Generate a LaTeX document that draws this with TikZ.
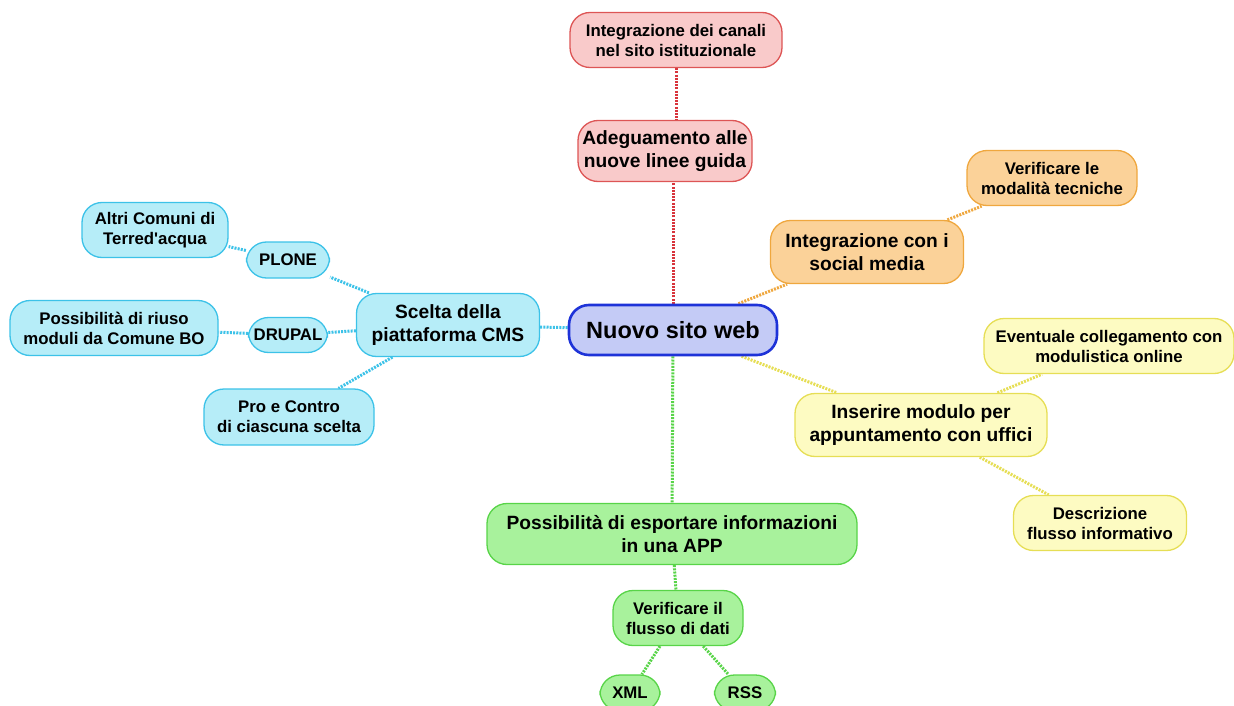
\documentclass[tikz,border=0pt]{standalone}
\usepackage{fontspec}
\setmainfont{Liberation Sans}
\usepackage{xcolor}
\usetikzlibrary{backgrounds}

\definecolor{rootfill}{HTML}{C4CBF6}
\definecolor{rootline}{HTML}{1E33D8}
\definecolor{redfill}{HTML}{F9CACA}
\definecolor{redline}{HTML}{DD5555}
\definecolor{reddot}{HTML}{D8343C}
\definecolor{orgfill}{HTML}{FBD299}
\definecolor{orgline}{HTML}{EFA73E}
\definecolor{yelfill}{HTML}{FDFBC2}
\definecolor{yelline}{HTML}{E6DE55}
\definecolor{grnfill}{HTML}{A8F29C}
\definecolor{grnline}{HTML}{58D448}
\definecolor{cyafill}{HTML}{B6EDF8}
\definecolor{cyaline}{HTML}{3CC2E8}

\begin{document}
\begin{tikzpicture}[x=1pt, y=-1pt,
    box/.style={draw, line width=1.3pt, rounded corners=20pt, align=center, inner sep=0pt},
    sz/.style 2 args={minimum width=#1pt, minimum height=#2pt},
    small/.style={font=\bfseries\fontsize{16.8}{20}\selectfont},
    mid/.style={font=\bfseries\fontsize{19.2}{23}\selectfont},
    rootbox/.style={box, fill=rootfill, draw=rootline, line width=2.6pt, font=\bfseries\fontsize{23.5}{27}\selectfont},
    redbox/.style={box, fill=redfill, draw=redline},
    orgbox/.style={box, fill=orgfill, draw=orgline},
    yelbox/.style={box, fill=yelfill, draw=yelline},
    grnbox/.style={box, fill=grnfill, draw=grnline},
    cyabox/.style={box, fill=cyafill, draw=cyaline},
    link/.style={line width=3pt, dash pattern=on 2pt off 1.2pt},
  ]
    \useasboundingbox (0,0) rectangle (1234,706);

    % centre
    \node[rootbox, sz={208}{50}] at (673,330) (root) {Nuovo sito web};

    % red branch
    \node[redbox, mid, sz={174}{61}] at (665,151) (adeg) {Adeguamento alle\\nuove linee guida};
    \node[redbox, small, sz={212}{55}] at (676,40) (canali) {Integrazione dei canali\\nel sito istituzionale};

    % orange branch
    \node[orgbox, mid, sz={193}{63}] at (867,252) (social) {Integrazione con i\\social media};
    \node[orgbox, small, sz={170}{55}] at (1052,178) (modal) {Verificare le\\modalità tecniche};

    % yellow branch
    \node[yelbox, mid, sz={252}{63}] at (921,425) (modulo) {Inserire modulo per\\appuntamento con uffici};
    \node[yelbox, small, sz={250}{55}] at (1109,346) (event) {Eventuale collegamento con\\modulistica online};
    \node[yelbox, small, sz={173}{55}] at (1100,523) (descr) {Descrizione\\flusso informativo};

    % green branch
    \node[grnbox, mid, sz={370}{61}] at (672,534) (app) {Possibilità di esportare informazioni\\in una APP};
    \node[grnbox, small, sz={130}{55}] at (678,618) (flusso) {Verificare il\\flusso di dati};
    \node[grnbox, small, sz={60}{36}] at (630,693) (xml) {XML};
    \node[grnbox, small, sz={61}{36}] at (745,693) (rss) {RSS};

    % cyan branch
    \node[cyabox, mid, sz={183}{63}] at (448,325) (cms) {Scelta della\\piattaforma CMS};
    \node[cyabox, small, sz={83}{36}] at (288,260) (plone) {PLONE};
    \node[cyabox, small, sz={79}{35}] at (288,335) (drupal) {DRUPAL};
    \node[cyabox, small, sz={146}{55}] at (155,230) (altri) {Altri Comuni di\\Terred\textquotesingle acqua};
    \node[cyabox, small, sz={208}{55}] at (114,328) (riuso) {Possibilità di riuso\\moduli da Comune BO};
    \node[cyabox, small, sz={170}{56}] at (289,417) (procon) {Pro e Contro\\di ciascuna scelta};

    \begin{scope}[on background layer]
        \draw [link, draw=reddot] (root.north) -- (root.north |- adeg.south);
        \draw [link, draw=reddot] (canali.south) -- (canali.south |- adeg.north);
        \draw [link, draw=orgline] (root) -- (social);
        \draw [link, draw=orgline] (social) -- (modal);
        \draw [link, draw=yelline] (root) -- (modulo);
        \draw [link, draw=yelline] (modulo) -- (event);
        \draw [link, draw=yelline] (modulo) -- (descr);
        \draw [link, draw=grnline] (root) -- (app);
        \draw [link, draw=grnline] (app) -- (flusso);
        \draw [link, draw=grnline] (flusso) -- (xml);
        \draw [link, draw=grnline] (flusso) -- (rss);
        \draw [link, draw=cyaline] (root) -- (cms);
        \draw [link, draw=cyaline] (cms) -- (plone);
        \draw [link, draw=cyaline] (cms) -- (drupal);
        \draw [link, draw=cyaline] (cms) -- (procon);
        \draw [link, draw=cyaline] (plone) -- (altri);
        \draw [link, draw=cyaline] (drupal) -- (riuso);
    \end{scope}
\end{tikzpicture}
\end{document}
